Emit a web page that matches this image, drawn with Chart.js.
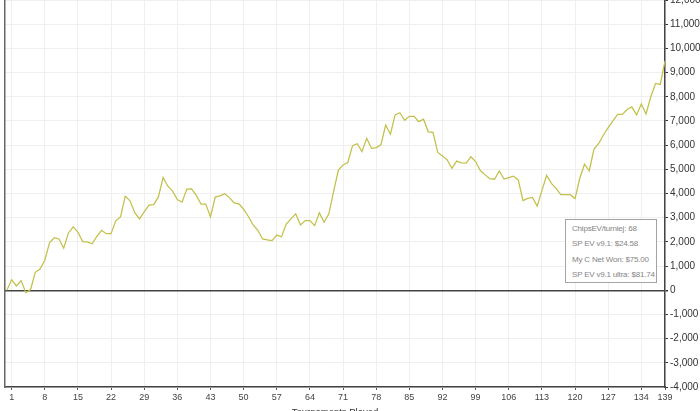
<!DOCTYPE html>
<html>
<head>
<meta charset="utf-8">
<script src="https://cdn.jsdelivr.net/npm/chart.js@4.4.1/dist/chart.umd.min.js"></script>
<style>
html,body{margin:0;padding:0;background:#fff;overflow:hidden;width:700px;height:411px;}
#wrap{position:absolute;left:0;top:0;width:700px;height:420px;}
#stats{position:absolute;left:565px;top:219px;width:92px;height:64px;box-sizing:border-box;border:1px solid #a3a3a3;background:#fff;
  font-family:"Liberation Sans",Arial,sans-serif;font-size:8px;color:#858585;padding:1px 0 0 6px;line-height:15.3px;letter-spacing:-0.2px;white-space:nowrap;}
</style>
</head>
<body>
<div id="wrap"><canvas id="chart1" width="700" height="420"></canvas></div>
<div id="stats"></div>
<script>
// chip result after each tournament (index 0 = start)
var chipsWon = [
	0, 440, 180, 400, -100, 30, 740, 880, 1240, 1960,
	2170, 2120, 1740, 2370, 2620, 2400, 2010, 2000, 1920, 2230,
	2480, 2340, 2340, 2870, 3030, 3890, 3700, 3210, 2950, 3240,
	3520, 3540, 3860, 4660, 4300, 4100, 3750, 3640, 4180, 4190,
	3920, 3560, 3560, 3030, 3850, 3900, 3990, 3830, 3610, 3570,
	3350, 3050, 2700, 2480, 2120, 2080, 2050, 2280, 2210, 2740,
	2950, 3160, 2700, 2880, 2880, 2670, 3200, 2810, 3160, 4080,
	4960, 5180, 5280, 5980, 6060, 5730, 6280, 5870, 5900, 6010,
	6830, 6450, 7250, 7340, 7030, 7190, 7190, 6970, 7070, 6550,
	6530, 5700, 5550, 5390, 5040, 5340, 5270, 5260, 5520, 5320,
	4950, 4770, 4610, 4590, 4930, 4600, 4660, 4720, 4560, 3710,
	3800, 3840, 3480, 4120, 4750, 4420, 4210, 3950, 3950, 3950,
	3790, 4630, 5210, 4930, 5840, 6070, 6420, 6720, 7000, 7270,
	7270, 7470, 7580, 7250, 7700, 7290, 8000, 8550, 8510, 9480
];
var tournamentNo = chipsWon.map(function(v, i){ return i; });
var xTicks = [1, 8, 15, 22, 29, 36, 43, 50, 57, 64, 71, 78, 85, 92, 99, 106, 113, 120, 127, 134, 139];
var yMin = -4000;
var yMax = 12000;
var yStep = 1000;
var statLines = [
	"ChipsEV/turniej: 68",
	"SP EV v9.1: $24.58",
	"My C Net Won: $75.00",
	"SP EV v9.1 ultra: $81.74"
];

document.getElementById("stats").innerHTML = statLines.join("<br>");

var lineColor = "#c2c04a";

var graph = new Chart(document.getElementById("chart1").getContext('2d'),{
	type:'line',
	data:{
		labels:tournamentNo,
		datasets:[{
			data:chipsWon,
			borderColor:lineColor,
			borderWidth:1.25,
			pointRadius:0,
			tension:0,
			fill:false
		}]
	},
	options:{
		responsive:false,
		animation:false,
		layout:{padding:{left:5, right:0, top:0, bottom:0}},
		plugins:{
			legend:{display:false},
			tooltip:{enabled:false}
		},
		scales:{
			x:{
				type:'linear',
				min:-0.4,
				max:139,
				afterBuildTicks:function(s){ s.ticks = xTicks.map(function(v){ return {value:v}; }); },
				afterFit:function(s){ s.height = 33; s.paddingLeft = 0; s.paddingRight = 0; },
				grid:{color:'#efefef', lineWidth:1, tickLength:3, tickColor:'#555'},
				border:{color:'#444', width:1.5},
				ticks:{color:'#444', font:{family:'Liberation Sans', size:9}, padding:2, autoSkip:false, maxRotation:0},
				title:{display:true, text:'Tournaments Played', color:'#333', font:{family:'Liberation Sans', size:9.5}, padding:{top:0, bottom:2}}
			},
			y:{
				position:'right',
				min:yMin,
				max:yMax,
				afterFit:function(s){ s.width = 35; s.paddingTop = 0; s.paddingBottom = 0; },
				grid:{
					color:function(c){ return c.tick && c.tick.value === 0 ? '#444' : '#efefef'; },
					lineWidth:function(c){ return c.tick && c.tick.value === 0 ? 1.5 : 1; },
					tickLength:3,
					tickColor:'#333'
				},
				border:{color:'#444', width:1.5},
				ticks:{
					stepSize:yStep,
					color:'#333',
					padding:2,
					font:{family:'Liberation Sans', size:10},
					callback:function(v){ return v.toLocaleString('en-US'); }
				}
			},
			yl:{
				position:'left',
				afterFit:function(s){ s.width = 0; s.paddingTop = 0; s.paddingBottom = 0; },
				grid:{display:false, drawTicks:false},
				border:{color:'#666', width:1.5},
				ticks:{display:false}
			}
		}
	}
});
</script>
</body>
</html>
